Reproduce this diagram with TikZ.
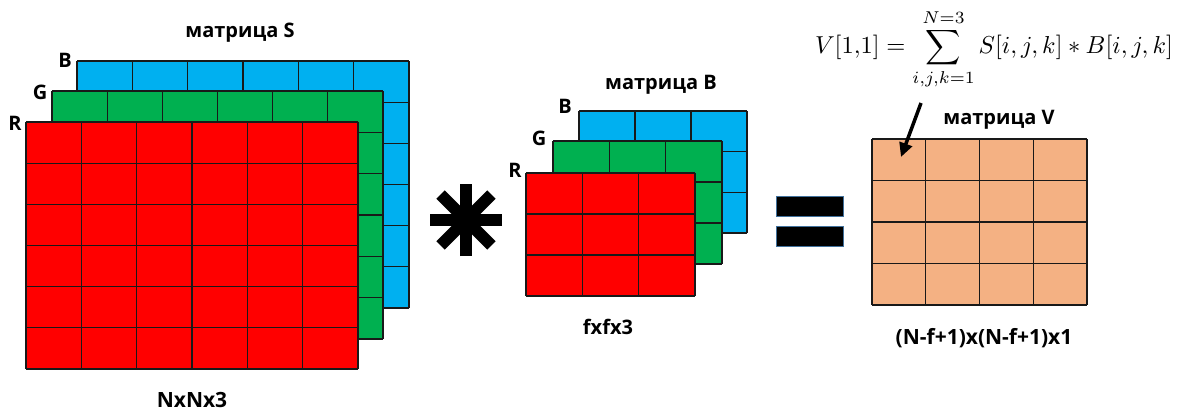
\documentclass[tikz,border=0pt]{standalone}
\usepackage{fontspec}
\usepackage{graphicx}
\setsansfont{Open Sans}
\usetikzlibrary{arrows.meta}
\definecolor{mblue}{HTML}{00B0F0}
\definecolor{mgreen}{HTML}{00B050}
\definecolor{mred}{HTML}{FF0000}
\definecolor{morange}{HTML}{F4B183}
\definecolor{eqborder}{HTML}{41719C}
\tikzset{
  gridline/.style={draw=black!90, line width=1.2pt},
  lbl/.style={font=\sffamily\bfseries\fontsize{20}{22}\selectfont, anchor=base, inner sep=0pt},
  biglbl/.style={font=\sffamily\bfseries\fontsize{21}{24}\selectfont, anchor=base, inner sep=0pt},
  eqbar/.style={fill=black, draw=eqborder, line width=0.8pt},
  starline/.style={line width=12pt, line cap=butt},
  pointer/.style={line width=3.5pt, -{Triangle[length=14pt,width=13pt]}}
}
% #1 x0, #2 y0, #3 x1, #4 y1, #5 cols, #6 rows, #7 colour
\newcommand{\matgrid}[7]{%
  \fill[#7] (#1,#2) rectangle (#3,#4);
  \foreach \i in {0,...,#5}{\draw[gridline] ({#1+\i*(#3-#1)/#5},#2) -- ({#1+\i*(#3-#1)/#5},#4);}
  \foreach \j in {0,...,#6}{\draw[gridline] (#1,{#2+\j*(#4-#2)/#6}) -- (#3,{#2+\j*(#4-#2)/#6});}
}
\begin{document}
\begin{tikzpicture}[x=1pt,y=-1pt]
\useasboundingbox (0,0) rectangle (1188,410);
% ---- matrix S ----
\matgrid{77}{61}{409}{308}{6}{6}{mblue}
\matgrid{52}{91}{383}{339}{6}{6}{mgreen}
\matgrid{26}{122}{358}{369}{6}{6}{mred}
\node[lbl] (titleS) at (240,37) {матрица S};
\node[lbl] (sB) at (65,67) {B};
\node[lbl] (sG) at (40,99) {G};
\node[lbl] (sR) at (15,130) {R};
\node[biglbl] (dimS) at (192,407) {NxNx3};
% ---- asterisk ----
\foreach \a in {0,45,90,135}{\draw[starline] (466,220) ++(\a:36) -- ++(\a+180:72);}
% ---- matrix B ----
\matgrid{579}{111}{747}{233}{3}{3}{mblue}
\matgrid{553}{141}{722}{264}{3}{3}{mgreen}
\matgrid{526}{173}{695}{296}{3}{3}{mred}
\node[lbl] (titleB) at (661,89) {матрица B};
\node[lbl] (bB) at (565,113) {B};
\node[lbl] (bG) at (539,145) {G};
\node[lbl] (bR) at (515,177) {R};
\node[lbl] (dimB) at (608,334) {fxfx3};
% ---- equals ----
\draw[eqbar] (776,196) rectangle (843,216);
\draw[eqbar] (776,226) rectangle (843,246);
% ---- matrix V ----
\matgrid{872}{139}{1087}{305}{4}{4}{morange}
\node[lbl] (titleV) at (999,124) {матрица V};
\node[biglbl] (dimV) at (984,344) {(N-f+1)x(N-f+1)x1};
% ---- formula ----
\node[inner sep=0pt] (formula) at (994,49)
  {\resizebox{358pt}{!}{$\displaystyle V[1{,}1] = \sum_{i,j,k=1}^{N=3} S[i,j,k]*B[i,j,k]$}};
\coordinate (arrS) at (921,103);
\coordinate (arrE) at (901,157);
\draw[pointer] (arrS) -- (arrE);
\end{tikzpicture}
\end{document}
